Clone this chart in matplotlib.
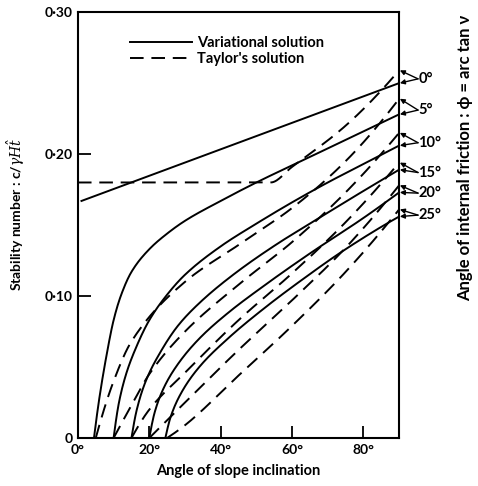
import matplotlib
matplotlib.use("Agg")
import matplotlib.pyplot as plt
import numpy as np

plt.rcParams['font.family'] = ['Lato', 'DejaVu Sans']
plt.rcParams['mathtext.fontset'] = 'dejavuserif'

phi_labels = ["0°", "5°", "10°", "15°", "20°", "25°"]

# Variational solution (solid): slope angle (deg), stability number
var_x = [
    [1, 90],
    [4.5, 6, 8, 10, 12, 15, 20, 25, 30, 40, 50, 65, 80, 90],
    [10, 11.5, 13.5, 16, 20, 25, 30, 40, 50, 60, 70, 80, 90],
    [15, 16.5, 19, 23, 28, 34, 43.5, 56, 65, 78, 90],
    [20, 21.5, 24, 28, 34, 42, 52, 65, 80, 90],
    [24.5, 26, 29, 34, 42, 52, 62, 75, 90],
]
var_y = [
    [0.167, 0.250],
    [0.0, 0.028, 0.058, 0.083, 0.100, 0.117, 0.133, 0.144, 0.153, 0.167, 0.180, 0.198, 0.216, 0.228],
    [0.0, 0.025, 0.045, 0.062, 0.083, 0.101, 0.115, 0.135, 0.151, 0.166, 0.180, 0.193, 0.206],
    [0.0, 0.020, 0.040, 0.060, 0.079, 0.095, 0.115, 0.137, 0.151, 0.171, 0.189],
    [0.0, 0.018, 0.035, 0.052, 0.070, 0.088, 0.107, 0.130, 0.155, 0.173],
    [0.0, 0.015, 0.032, 0.050, 0.070, 0.091, 0.110, 0.133, 0.156],
]

# Taylor's solution (dashed)
tay_x = [
    [0, 54, 60, 75, 90],
    [5, 10, 15, 30, 45, 60, 75, 90],
    [10, 15, 20, 30, 45, 60, 75, 90],
    [15, 20, 30, 45, 60, 75, 90],
    [20, 30, 45, 60, 75, 90],
    [25, 30, 45, 60, 75, 90],
]
tay_y = [
    [0.180, 0.180, 0.191, 0.220, 0.259],
    [0.0, 0.040, 0.068, 0.110, 0.136, 0.162, 0.195, 0.239],
    [0.0, 0.023, 0.045, 0.075, 0.108, 0.138, 0.173, 0.215],
    [0.0, 0.020, 0.046, 0.083, 0.116, 0.152, 0.194],
    [0.0, 0.025, 0.062, 0.097, 0.134, 0.178],
    [0.0, 0.009, 0.044, 0.079, 0.117, 0.161],
]

# vertical position of the phi labels at the right
label_y = [0.253, 0.231, 0.208, 0.187, 0.1725, 0.157]

xticks = [0, 20, 40, 60, 80]
xticklabels = ["0°", "20°", "40°", "60°", "80°"]
yticks = [0, 0.10, 0.20, 0.30]
yticklabels = ["0", "0·10", "0·20", "0·30"]


def pchip(x, y, t):
    x = np.asarray(x, float); y = np.asarray(y, float)
    h = np.diff(x); d = np.diff(y) / h
    n = len(x)
    m = np.zeros(n)
    if n == 2:
        m[:] = d[0]
    else:
        for k in range(1, n - 1):
            if d[k - 1] * d[k] <= 0:
                m[k] = 0
            else:
                w1 = 2 * h[k] + h[k - 1]; w2 = h[k] + 2 * h[k - 1]
                m[k] = (w1 + w2) / (w1 / d[k - 1] + w2 / d[k])
        m[0] = ((2 * h[0] + h[1]) * d[0] - h[0] * d[1]) / (h[0] + h[1])
        if np.sign(m[0]) != np.sign(d[0]):
            m[0] = 0
        elif np.sign(d[0]) != np.sign(d[1]) and abs(m[0]) > abs(3 * d[0]):
            m[0] = 3 * d[0]
        m[-1] = ((2 * h[-1] + h[-2]) * d[-1] - h[-1] * d[-2]) / (h[-1] + h[-2])
        if np.sign(m[-1]) != np.sign(d[-1]):
            m[-1] = 0
        elif np.sign(d[-1]) != np.sign(d[-2]) and abs(m[-1]) > abs(3 * d[-1]):
            m[-1] = 3 * d[-1]
    idx = np.clip(np.searchsorted(x, t) - 1, 0, n - 2)
    hh = h[idx]; s = (t - x[idx]) / hh
    h00 = 2 * s**3 - 3 * s**2 + 1; h10 = s**3 - 2 * s**2 + s
    h01 = -2 * s**3 + 3 * s**2; h11 = s**3 - s**2
    return h00 * y[idx] + h10 * hh * m[idx] + h01 * y[idx + 1] + h11 * hh * m[idx + 1]


fig = plt.figure(figsize=(4.78, 4.86), dpi=100)
ax = fig.add_axes([0.163, 0.0988, 0.672, 0.8762])

lw = 1.4
for i in range(len(var_x)):
    t = np.linspace(var_x[i][0], var_x[i][-1], 400)
    ax.plot(t, pchip(var_x[i], var_y[i], t), color='black', lw=lw,
            label='Variational solution' if i == 0 else None)

for i in range(len(tay_x)):
    t = np.linspace(tay_x[i][0], tay_x[i][-1], 400)
    ax.plot(t, pchip(tay_x[i], tay_y[i], t), color='black', lw=lw, dashes=(7, 4),
            label="Taylor's solution" if i == 0 else None)

# labels with two arrows at right
for i, lab in enumerate(phi_labels):
    ly = label_y[i]
    for yend in (tay_y[i][-1], var_y[i][-1]):
        ax.annotate("", xy=(90.2, yend), xytext=(95.3, ly),
                    arrowprops=dict(arrowstyle='-|>', color='black', lw=1.0,
                                    mutation_scale=7, shrinkA=0, shrinkB=0),
                    annotation_clip=False)
    ax.text(95.4, ly, lab, ha='left', va='center', fontsize=10.5,
            fontweight='bold', clip_on=False)

ax.set_xlim(0, 90)
ax.set_ylim(0, 0.30)
ax.set_xticks(xticks)
ax.set_xticklabels(xticklabels)
ax.set_yticks(yticks)
ax.set_yticklabels(yticklabels)
ax.tick_params(direction='in', length=9, width=1.3, labelsize=10, pad=4)
for lbl in ax.get_xticklabels() + ax.get_yticklabels():
    lbl.set_fontweight('bold')
for s in ax.spines.values():
    s.set_linewidth(1.5)

ax.set_xlabel("Angle of slope inclination", fontsize=10.5, fontweight='bold', labelpad=6)
ax.set_ylabel(r"Stability number : c/$\gamma H\hat{t}$", fontsize=10, fontweight='bold')
ax.yaxis.set_label_coords(-0.158, 0.526)

fig.text(0.973, 0.675, "Angle of internal friction : \u03d5 = arc tan \u03bd",
         rotation=90, ha='center', va='center', fontsize=12, fontweight='bold')

leg = ax.legend(loc='upper left', bbox_to_anchor=(0.12, 0.975), frameon=False,
                handlelength=4.3, fontsize=10.5, labelspacing=0.15, handletextpad=0.35)
for t in leg.get_texts():
    t.set_fontweight('bold')

fig.savefig("out.png", dpi=100)
